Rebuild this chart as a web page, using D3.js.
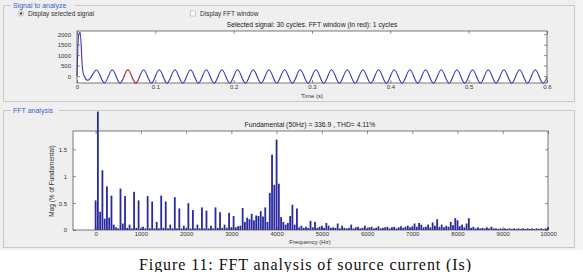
<!DOCTYPE html>
<html>
<head>
<meta charset="utf-8">
<script src="https://cdn.jsdelivr.net/npm/d3@7"></script>
<style>
  body { margin: 0; background: #fff; }
  svg { display: block; font-family: 'Liberation Sans', Arial, sans-serif; }
</style>
</head>
<body>
<svg width="583" height="272"></svg>
<script>
'use strict'

// time signal: key points (s, A)
const sigTime = [0, 0.002, 0.004, 0.007, 0.009, 0.014,
  0.025, 0.035, 0.045, 0.055, 0.065, 0.075, 0.085, 0.095, 0.105, 0.115,
  0.125, 0.135, 0.145, 0.155, 0.165, 0.175, 0.185, 0.195, 0.205, 0.215,
  0.225, 0.235, 0.245, 0.255, 0.265, 0.275, 0.285, 0.295, 0.305, 0.315,
  0.325, 0.335, 0.345, 0.355, 0.365, 0.375, 0.385, 0.395, 0.405, 0.415,
  0.425, 0.435, 0.445, 0.455, 0.465, 0.475, 0.485, 0.495, 0.505, 0.515,
  0.525, 0.535, 0.545, 0.555, 0.565, 0.575, 0.585, 0.595, 0.6]
const sigValue = [0, 1950, 2100, 350, 20, -200,
  290, -330, 300, -340, 300, -340, 300, -340, 300, -340,
  300, -340, 300, -340, 300, -340, 300, -340, 300, -340,
  300, -340, 300, -340, 300, -340, 300, -340, 300, -340,
  300, -340, 300, -340, 300, -340, 300, -340, 300, -340,
  300, -340, 300, -340, 300, -340, 300, -340, 300, -340,
  300, -340, 300, -340, 300, -340, 300, -340, -60]
const fftWindow = [0.059, 0.079]
const timeTicks = [0, 0.1, 0.2, 0.3, 0.4, 0.5, 0.6]
const ampTicks = [0, 500, 1000, 1500, 2000]

// spectrum: one bar per 50 Hz bin, 0..10000 Hz (% of fundamental)
const binStep = 50
const harmonicMag = [
  0.55, 2.2, 0.34, 1.11, 0.21, 0.81, 0.23, 0.64, 0.1, 0.05,
  0.03, 0.77, 0.12, 0.63, 0.04, 0.1, 0.03, 0.71, 0.04, 0.55,
  0.03, 0.06, 0.03, 0.63, 0.03, 0.53, 0.03, 0.15, 0.03, 0.64,
  0.04, 0.53, 0.03, 0.1, 0.03, 0.61, 0.03, 0.4, 0.03, 0.08,
  0.03, 0.5, 0.03, 0.37, 0.03, 0.1, 0.03, 0.42, 0.03, 0.36,
  0.03, 0.08, 0.03, 0.42, 0.04, 0.33, 0.04, 0.1, 0.04, 0.32,
  0.05, 0.26, 0.05, 0.07, 0.08, 0.41, 0.15, 0.23, 0.2, 0.3,
  0.18, 0.27, 0.26, 0.35, 0.25, 0.42, 0.15, 0.69, 1.4, 0.84,
  1.68, 0.86, 0.24, 0.15, 0.1, 0.13, 0.26, 0.47, 0.1, 0.4,
  0.05, 0.08, 0.04, 0.06, 0.04, 0.17, 0.05, 0.15, 0.04, 0.06,
  0.08, 0.04, 0.13, 0.08, 0.04, 0.05, 0.04, 0.12, 0.03, 0.08,
  0.04, 0.03, 0.04, 0.1, 0.03, 0.05, 0.06, 0.03, 0.04, 0.08,
  0.03, 0.05, 0.06, 0.03, 0.04, 0.07, 0.03, 0.04, 0.05, 0.06,
  0.03, 0.05, 0.06, 0.03, 0.05, 0.07, 0.04, 0.06, 0.08, 0.05,
  0.07, 0.12, 0.06, 0.13, 0.1, 0.05, 0.06, 0.1, 0.05, 0.14,
  0.08, 0.2, 0.06, 0.1, 0.05, 0.08, 0.06, 0.15, 0.09, 0.22,
  0.18, 0.07, 0.1, 0.05, 0.12, 0.22, 0.04, 0.06, 0.03, 0.05,
  0.03, 0.04, 0.03, 0.05, 0.03, 0.06, 0.03, 0.03, 0.02, 0.03,
  0.02, 0.03, 0.02, 0.03, 0.02, 0.03, 0.02, 0.03, 0.02, 0.03,
  0.02, 0.03, 0.02, 0.03, 0.02, 0.03, 0.02, 0.03, 0.02, 0.03,
  0.05]
const freqTicks = [0, 1000, 2000, 3000, 4000, 5000, 6000, 7000, 8000, 9000, 10000]
const magTicks = [0, 0.5, 1, 1.5]

const svg = d3.select('svg')
const textCol = '#333'

// gui background + panels
svg.append('rect').attr('width', 583).attr('height', 250).attr('fill', '#efefef')
svg.append('rect').attr('x', 576).attr('width', 7).attr('height', 250).attr('fill', '#f5f5f5')

const panel = (y0, y1, title, tw) => {
  svg.append('rect').attr('x', 3.5).attr('y', y0 + 0.5).attr('width', 571).attr('height', y1 - y0)
    .attr('fill', 'none').attr('stroke', '#c9c9c9')
  svg.append('rect').attr('x', 11).attr('y', y0 - 4).attr('width', tw).attr('height', 8).attr('fill', '#efefef')
  svg.append('text').attr('x', 13).attr('y', y0 + 2.5).attr('font-size', 7).attr('fill', '#3a5fc8').text(title)
}
panel(5, 101, 'Signal to analyze', 64)
panel(110, 247, 'FFT analysis', 48)

// radio + checkbox
svg.append('circle').attr('cx', 21).attr('cy', 13.5).attr('r', 2.6).attr('fill', '#fff').attr('stroke', '#999').attr('stroke-width', 0.6)
svg.append('circle').attr('cx', 21).attr('cy', 13.5).attr('r', 1.3).attr('fill', '#444')
svg.append('text').attr('x', 28).attr('y', 16).attr('font-size', 6.5).attr('fill', textCol).text('Display selected signal')
svg.append('rect').attr('x', 190.5).attr('y', 11).attr('width', 5).attr('height', 5).attr('fill', '#fff').attr('stroke', '#aaa').attr('stroke-width', 0.6)
svg.append('text').attr('x', 200).attr('y', 16).attr('font-size', 6.5).attr('fill', textCol).text('Display FFT window')

// boxed axes with inward ticks on all four sides
const boxAxes = (x, y, xt, yt, xfmt, yfmt) => {
  const [l, r] = x.range(), [b, t] = y.range()
  const g = svg.append('g')
  g.append('rect').attr('x', l).attr('y', t).attr('width', r - l).attr('height', b - t).attr('fill', '#fff')
  const style = (sel) => {
    sel.select('.domain').remove()
    sel.selectAll('line').attr('stroke', '#444').attr('stroke-width', 0.6)
    sel.selectAll('text').attr('fill', textCol).attr('font-size', 6).attr('font-family', null)
  }
  g.append('g').attr('transform', `translate(0,${b})`)
    .call(d3.axisBottom(x).tickValues(xt).tickSize(-3).tickPadding(1.5).tickFormat(xfmt)).call(style)
  g.append('g').attr('transform', `translate(0,${t})`)
    .call(d3.axisTop(x).tickValues(xt).tickSize(-3).tickFormat('')).call(style)
  g.append('g').attr('transform', `translate(${l},0)`)
    .call(d3.axisLeft(y).tickValues(yt).tickSize(-3).tickPadding(6).tickFormat(yfmt)).call(style)
  g.append('g').attr('transform', `translate(${r},0)`)
    .call(d3.axisRight(y).tickValues(yt).tickSize(-3).tickFormat('')).call(style)
  return g
}
const drawBox = (x, y) => {
  const [l, r] = x.range(), [b, t] = y.range()
  svg.append('rect').attr('x', l).attr('y', t).attr('width', r - l).attr('height', b - t)
    .attr('fill', 'none').attr('stroke', '#444').attr('stroke-width', 0.7)
}

// --- time signal ---
const xT = d3.scaleLinear().domain([0, 0.6]).range([77, 547])
const yT = d3.scaleLinear().domain([-330, 2150]).range([83, 31])
boxAxes(xT, yT, timeTicks, ampTicks, d3.format('~g'), d3.format('d'))

const sig = sigTime.map((t, i) => [t, sigValue[i]])
const line = d3.line().x((d) => xT(d[0])).y((d) => yT(d[1])).curve(d3.curveMonotoneX)
svg.append('path').datum(sig).attr('d', line)
  .attr('fill', 'none').attr('stroke', '#3535c0').attr('stroke-width', 1.1)
svg.append('clipPath').attr('id', 'win').append('rect')
  .attr('x', xT(fftWindow[0])).attr('y', 0).attr('width', xT(fftWindow[1]) - xT(fftWindow[0])).attr('height', 110)
svg.append('path').datum(sig).attr('d', line).attr('clip-path', 'url(#win)')
  .attr('fill', 'none').attr('stroke', '#e04848').attr('stroke-width', 1.1)
drawBox(xT, yT)

svg.append('text').attr('x', 312).attr('y', 27).attr('text-anchor', 'middle').attr('font-size', 6.8).attr('fill', '#222')
  .text('Selected signal: 30 cycles. FFT window (in red): 1 cycles')
svg.append('text').attr('x', 312).attr('y', 97.5).attr('text-anchor', 'middle').attr('font-size', 6).attr('fill', textCol)
  .text('Time (s)')

// --- spectrum ---
const xF = d3.scaleLinear().domain([-500, 10000]).range([73, 548])
const yF = d3.scaleLinear().domain([0, 1.84]).range([230, 131])
boxAxes(xF, yF, freqTicks, magTicks, d3.format('d'), d3.format('~g'))

const bw = (xF(binStep) - xF(0)) * 0.8
svg.append('g').selectAll('rect').data(harmonicMag).enter().append('rect')
  .attr('x', (d, i) => xF(i * binStep) - bw / 2)
  .attr('y', (d) => yF(d))
  .attr('width', bw)
  .attr('height', (d) => yF(0) - yF(d))
  .attr('fill', '#2a2aa0')
drawBox(xF, yF)

svg.append('text').attr('x', 310).attr('y', 127).attr('text-anchor', 'middle').attr('font-size', 6.8).attr('fill', '#222')
  .text('Fundamental (50Hz) = 336.9 , THD= 4.11%')
svg.append('text').attr('x', 310).attr('y', 244).attr('text-anchor', 'middle').attr('font-size', 6).attr('fill', textCol)
  .text('Frequency (Hz)')
svg.append('text').attr('transform', 'translate(54,181) rotate(-90)').attr('text-anchor', 'middle')
  .attr('font-size', 6.5).attr('fill', textCol).text('Mag (% of Fundamental)')

// caption
svg.append('text').attr('x', 305).attr('y', 270).attr('text-anchor', 'middle')
  .attr('font-family', "'Liberation Serif', 'Times New Roman', serif").attr('font-size', 16).attr('fill', '#111')
  .attr('textLength', 332).attr('lengthAdjust', 'spacing')
  .text('Figure 11: FFT analysis of  source current (Is)')
</script>
</body>
</html>
